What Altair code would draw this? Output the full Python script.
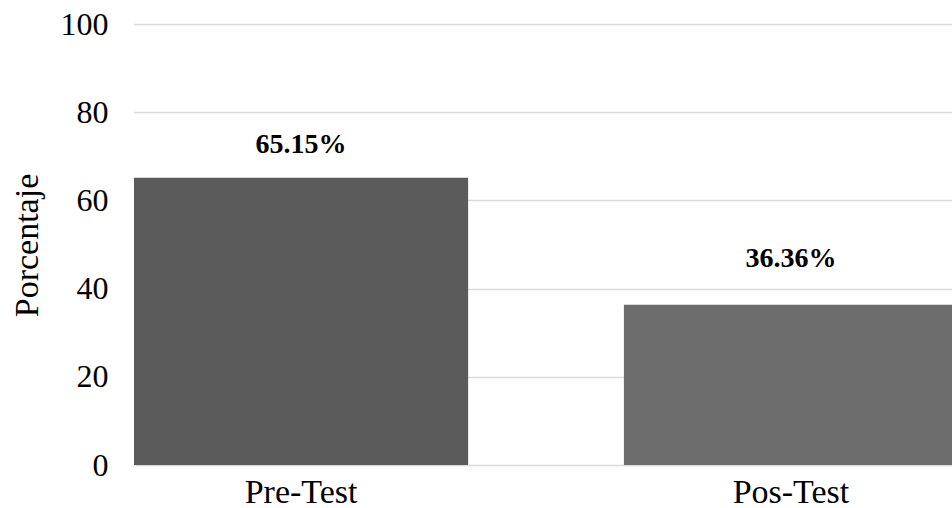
import altair as alt
import pandas as pd

categories = ["Pre-Test", "Pos-Test"]
values = [65.15, 36.36]
labels = ["65.15%", "36.36%"]
colors = ["#5b5b5b", "#6d6d6d"]

df = pd.DataFrame({"cat": categories, "val": values, "lab": labels})

FONT = "Liberation Serif"

xscale = alt.Scale(domain=categories, range=[0, 824], paddingInner=0.318, paddingOuter=0)
yscale = alt.Scale(domain=[0, 100])

base = alt.Chart(df)

bars = base.mark_bar(clip=True).encode(
    x=alt.X("cat:N", scale=xscale, sort=categories,
            axis=alt.Axis(title=None, labelFont=FONT, labelFontSize=34, labelColor="#000000",
                          labelAngle=0, ticks=False, domain=False, labelPadding=37,
                          labelBaseline="alphabetic", grid=False)),
    y=alt.Y("val:Q", scale=yscale,
            axis=alt.Axis(title="Porcentaje", values=[0, 20, 40, 60, 80, 100],
                          labelFont=FONT, labelFontSize=32, labelColor="#000000",
                          titleFont=FONT, titleFontSize=34, titleFontWeight="normal",
                          titleColor="#000000", titleX=-107, titleY=221,
                          titleAlign="center", titleBaseline="middle", titleAngle=270,
                          ticks=False, domain=False, labelPadding=26,
                          grid=True, gridColor="#d9d9d9", gridWidth=1.5)),
    color=alt.Color("cat:N", scale=alt.Scale(domain=categories, range=colors), legend=None),
)

text_pre = base.transform_filter(alt.datum.cat == "Pre-Test").mark_text(
    font=FONT, fontSize=28, fontWeight="bold", color="#000000", baseline="middle", dy=-33
).encode(x=alt.X("cat:N", scale=xscale, sort=categories), y=alt.Y("val:Q", scale=yscale), text="lab:N")

text_pos = base.transform_filter(alt.datum.cat == "Pos-Test").mark_text(
    font=FONT, fontSize=28, fontWeight="bold", color="#000000", baseline="middle", dy=-46
).encode(x=alt.X("cat:N", scale=xscale, sort=categories), y=alt.Y("val:Q", scale=yscale), text="lab:N")

chart = alt.layer(bars, text_pre, text_pos).properties(
    width=818, height=441,
    autosize=alt.AutoSizeParams(type="none"),
    padding={"left": 134, "top": 24, "right": 0, "bottom": 43},
    background="white",
).configure_view(stroke=None)

chart.save("out.html", embed_options={"renderer": "svg", "actions": False})
